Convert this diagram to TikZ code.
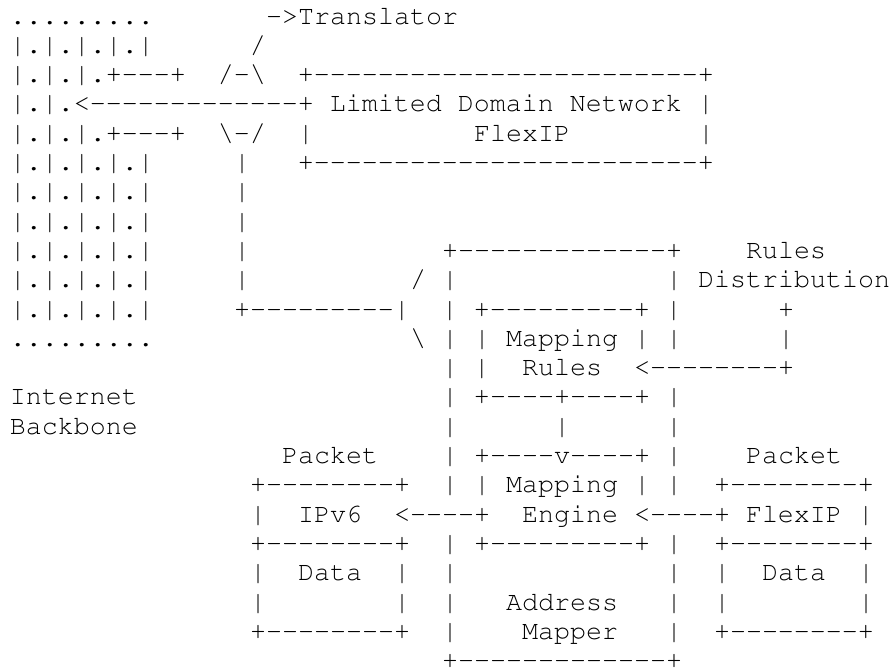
\documentclass[tikz,border=0pt]{standalone}
\usepackage[T1]{fontenc}
\usepackage{courier}

% one cell of the typewriter grid is 0.6em
\newcommand\gap[1]{\hspace*{#1\dimexpr 0.6em\relax}}
\newcommand\dashchar{\makebox[0.6em]{\char45}}
\newcommand\hr[1]{\foreach \dd in {1,...,#1}{\dashchar}}
\newcommand\rowfont{\fontsize{20}{22}\ttfamily\frenchspacing
  \catcode45=13
  \begingroup\lccode`\~=45 \lowercase{\endgroup\def~}{\dashchar}}

\begin{document}
\begin{tikzpicture}[x=12pt, y=-21.975pt,
    row/.style={anchor=base west, inner sep=0pt, outer sep=0pt, font=\rowfont}]
    \useasboundingbox (-0.625,-0.819) rectangle (55.1875,21.98);

    \node[row] (r0) at (0,0) {.........\gap{7}->Translator};
    \node[row] (r1) at (0,1) {|.|.|.|.|\gap{6}/};
    \node[row] (r2) at (0,2) {|.|.|.+---+\gap{2}/-\textbackslash\gap{2}+\hr{24}+};
    \node[row] (r3) at (0,3) {|.|.<\hr{13}+ Limited Domain Network |};
    \node[row] (r4) at (0,4) {|.|.|.+---+\gap{2}\textbackslash-/\gap{2}|\gap{10}FlexIP\gap{8}|};
    \node[row] (r5) at (0,5) {|.|.|.|.|\gap{5}|\gap{3}+\hr{24}+};
    \node[row] (r6) at (0,6) {|.|.|.|.|\gap{5}|};
    \node[row] (r7) at (0,7) {|.|.|.|.|\gap{5}|};
    \node[row] (r8) at (0,8) {|.|.|.|.|\gap{5}|\gap{12}+\hr{13}+\gap{4}Rules};
    \node[row] (r9) at (0,9) {|.|.|.|.|\gap{5}|\gap{10}/ |\gap{13}| Distribution};
    \node[row] (r10) at (0,10) {|.|.|.|.|\gap{5}+\hr{9}|\gap{2}| +\hr{9}+ |\gap{6}+};
    \node[row] (r11) at (0,11) {.........\gap{16}\textbackslash\gap{1}| | Mapping | |\gap{6}|};
    \node[row] (r12) at (0,12) {\gap{27}| |\gap{2}Rules\gap{2}<\hr{8}+};
    \node[row] (r13) at (0,13) {Internet\gap{19}| +----+----+ |};
    \node[row] (r14) at (0,14) {Backbone\gap{19}|\gap{6}|\gap{6}|};
    \node[row] (r15) at (0,15) {\gap{17}Packet\gap{4}| +----v----+ |\gap{4}Packet};
    \node[row] (r16) at (0,16) {\gap{15}+\hr{8}+\gap{2}| | Mapping | |\gap{2}+\hr{8}+};
    \node[row] (r17) at (0,17) {\gap{15}|\gap{2}IPv6\gap{2}<----+\gap{2}Engine <----+ FlexIP |};
    \node[row] (r18) at (0,18) {\gap{15}+\hr{8}+\gap{2}| +\hr{9}+ |\gap{2}+\hr{8}+};
    \node[row] (r19) at (0,19) {\gap{15}|\gap{2}Data\gap{2}|\gap{2}|\gap{13}|\gap{2}|\gap{2}Data\gap{2}|};
    \node[row] (r20) at (0,20) {\gap{15}|\gap{8}|\gap{2}|\gap{3}Address\gap{3}|\gap{2}|\gap{8}|};
    \node[row] (r21) at (0,21) {\gap{15}+\hr{8}+\gap{2}|\gap{4}Mapper\gap{3}|\gap{2}+\hr{8}+};
    \node[row] (r22) at (0,22) {\gap{27}+\hr{13}+};
\end{tikzpicture}
\end{document}
